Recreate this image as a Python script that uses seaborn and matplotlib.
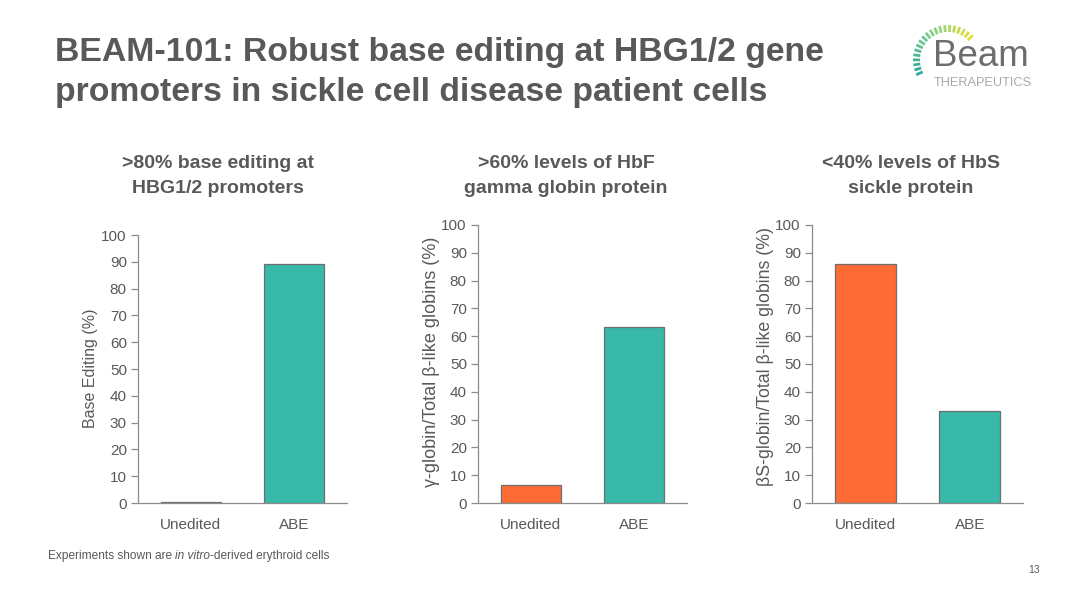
import numpy as np
import pandas as pd
import matplotlib.pyplot as plt
import seaborn as sns

# === DATA ===
CATEGORIES = ["Unedited", "ABE"]
BASE_EDITING = [0.2, 89.3]
HBF_LEVELS = [6.5, 63.3]
HBS_LEVELS = [86.0, 33.0]

PANEL_TITLES = [
    [">80% base editing at", "HBG1/2 promoters"],
    [">60% levels of HbF", "gamma globin protein"],
    ["<40% levels of HbS", "sickle protein"],
]
Y_LABELS = [
    "Base Editing (%)",
    "\u03b3-globin/Total \u03b2-like globins (%)",
    "\u03b2S-globin/Total \u03b2-like globins (%)",
]
Y_TICKS = list(range(0, 101, 10))
TITLE_LINES = [
    "BEAM-101: Robust base editing at HBG1/2 gene",
    "promoters in sickle cell disease patient cells",
]

# === STYLE ===
TEAL = "#38b8a8"
ORANGE = "#ff6b35"
GRAY = "#595959"
AXIS_GRAY = "#8c8c8c"
PALETTE = {"Unedited": ORANGE, "ABE": TEAL}

W, H = 1088, 612

sns.set_theme(style="white")
plt.rcParams["font.family"] = ["Liberation Sans", "DejaVu Sans"]

fig = plt.figure(figsize=(W / 100, H / 100), dpi=100)


def px(x, y):
    # pixel position (from top-left) -> figure fraction
    return x / W, 1 - y / H


# axes rectangles in figure fractions
AX_RECTS = [
    [0.1268, 0.1781, 0.1921, 0.4379],
    [0.4393, 0.1781, 0.1921, 0.4543],
    [0.7463, 0.1781, 0.1939, 0.4543],
]
TITLE_X = [218, 566, 911]
YLABEL_POS = [(90, 368), (431, 362), (765, 357)]
YLABEL_SIZE = [11.5, 13, 12.8]

panels = [BASE_EDITING, HBF_LEVELS, HBS_LEVELS]
for i, values in enumerate(panels):
    df = pd.DataFrame({"Group": CATEGORIES, "Value": values})
    ax = fig.add_axes(AX_RECTS[i])
    sns.barplot(data=df, x="Group", y="Value", hue="Group", palette=PALETTE,
                width=0.58, edgecolor="#6f6f6f", linewidth=0.9, legend=False,
                saturation=1, ax=ax)
    ax.set_xlim(-0.51, 1.51)
    ax.set_ylim(0, 100)
    ax.set_yticks(Y_TICKS)
    ax.set_xlabel("")
    ax.set_ylabel("")
    sns.despine(ax=ax)
    for side in ["left", "bottom"]:
        ax.spines[side].set_color(AXIS_GRAY)
        ax.spines[side].set_linewidth(0.9)
    ax.tick_params(axis="y", which="both", left=True, length=5, width=0.9,
                   color=AXIS_GRAY, labelcolor=GRAY, labelsize=11, pad=3)
    ax.tick_params(axis="x", bottom=False, labelcolor=GRAY, labelsize=11, pad=5)
    ax.patch.set_alpha(0)

    lx, ly = YLABEL_POS[i]
    fig.text(*px(lx, ly), Y_LABELS[i], rotation=90, ha="center", va="center",
             color=GRAY, fontsize=YLABEL_SIZE[i])
    for line, base_y in zip(PANEL_TITLES[i], [168, 193]):
        fig.text(*px(TITLE_X[i], base_y), line, ha="center", va="baseline",
                 color=GRAY, fontsize=14, fontweight="bold")

# === HEADER ===
for line, base_y in zip(TITLE_LINES, [61, 101]):
    fig.text(*px(55, base_y), line, ha="left", va="baseline", color=GRAY,
             fontsize=24.3, fontweight="bold")

# logo: radial dashes plus wordmark
logo = fig.add_axes([0, 0, 1, 1], zorder=-1)
logo.set_xlim(0, W)
logo.set_ylim(H, 0)
logo.axis("off")
cx, cy, r0, r1 = 948, 60, 28, 35
angles = np.linspace(205, 45, 20)
cmap = sns.blend_palette(["#2aa89a", "#7dcf8e", "#e8e03a"], n_colors=len(angles))
for a, c in zip(angles, cmap):
    t = np.deg2rad(a)
    logo.plot([cx + r0 * np.cos(t), cx + r1 * np.cos(t)],
              [cy - r0 * np.sin(t), cy - r1 * np.sin(t)],
              color=c, lw=2.0, solid_capstyle="butt")
logo.text(933, 66, "Beam", ha="left", va="baseline", color="#6d6d6d",
          fontsize=26.5)
logo.text(934, 86, "THERAPEUTICS", ha="left", va="baseline", color="#a8a8a8",
          fontsize=9.2)

# === FOOTER ===
FOOT_Y = 559
foot = fig.text(*px(48, FOOT_Y), "Experiments shown are ", ha="left",
                va="baseline", color=GRAY, fontsize=8.6)
fig.canvas.draw()
renderer = fig.canvas.get_renderer()
x_px = 48 + foot.get_window_extent(renderer).width
part = fig.text(*px(x_px, FOOT_Y), "in vitro", ha="left", va="baseline",
                color=GRAY, fontsize=8.6, style="italic")
x_px += part.get_window_extent(renderer).width
fig.text(*px(x_px, FOOT_Y), "-derived erythroid cells", ha="left",
         va="baseline", color=GRAY, fontsize=8.6)
fig.text(*px(1034, 570), "13", ha="center", va="center", color=GRAY,
         fontsize=7.5)

fig.savefig("out.png", dpi=100)
plt.close(fig)
